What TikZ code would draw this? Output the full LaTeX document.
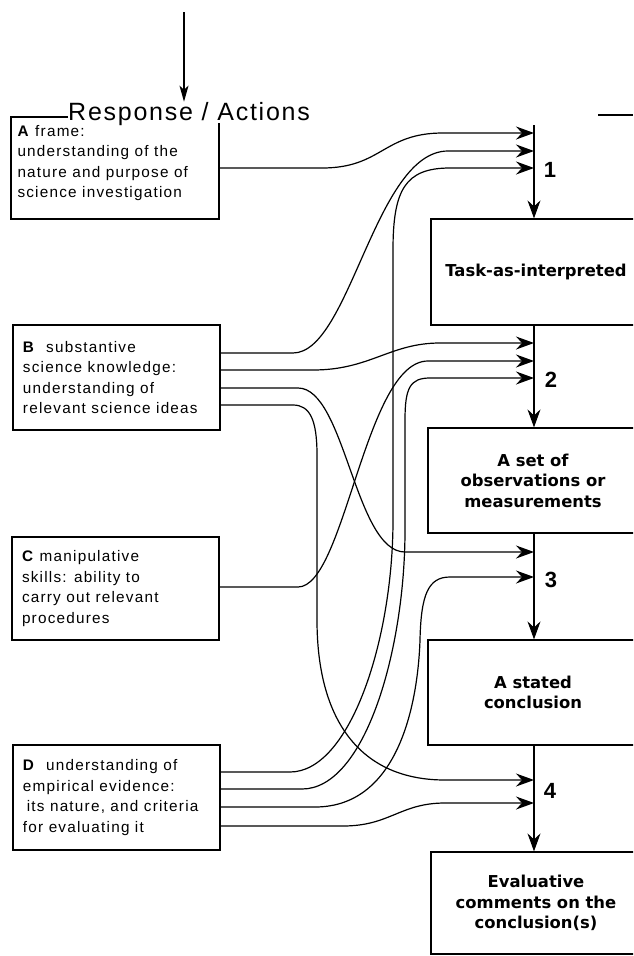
\documentclass[tikz,border=0pt]{standalone}
\usepackage{fontspec}
\usetikzlibrary{arrows.meta}
\setmainfont{Liberation Sans}
\newfontfamily\boxfont[LetterSpace=8]{Liberation Sans}
\newfontfamily\titlefont[LetterSpace=7]{Liberation Sans}
\newfontfamily\stagefont{DejaVu Sans}
\tikzstyle{inbox}=[draw=black, line width=1.2pt, text width=187pt, inner xsep=10pt,
  align=flush left, font={\boxfont\fontsize{15.3}{20.5}\selectfont}]
\tikzstyle{stage}=[draw=black, line width=1.2pt, minimum width=210pt, align=center,
  font={\stagefont\bfseries\fontsize{16.4}{20.5}\selectfont}]
\tikzstyle{title}=[anchor=base west, inner sep=0pt, font={\titlefont\fontsize{25}{25}\selectfont}]
\tikzstyle{num}=[inner sep=0pt, font={\bfseries\fontsize{22}{22}\selectfont}]
\tikzstyle{frame}=[line width=1.2pt]
\tikzstyle{feed}=[line width=1.2pt, -{Stealth[length=18pt,width=13pt,inset=6pt]}]
\tikzstyle{spine}=[line width=1.2pt, -{Stealth[length=18pt,width=13pt,inset=6pt]}]
\tikzstyle{toparrow}=[line width=1.7pt, -{Stealth[length=16pt,width=9pt,inset=4pt]}]

\begin{document}
\begin{tikzpicture}[x=1pt, y=-1pt]
    \useasboundingbox (0, 0) rectangle (633, 956);
    \clip (0, 0) rectangle (633, 956);
    % title, frame and incoming arrow
    \coordinate (src) at (184, 12);
    \node [style=title] (title) at (68, 120) {Response / Actions};
    \draw [style=frame] (68, 117) -| (11, 219) -| (219, 123);
    \draw [style=frame] (598, 115) to (633, 115);
    \draw [style=toparrow] (src) to (src |- title.north);

    % the four kinds of understanding
    \node [style=inbox, draw=none] (A) at (111, 163) {\textbf{A} frame:\\understanding of the\\nature and purpose of\\science investigation};
    \node [style=inbox, minimum height=105pt] (B) at (116.5, 377.5) {\textbf{B}\ \ substantive\\science knowledge:\\understanding of\\relevant science ideas};
    \node [style=inbox, minimum height=103pt] (C) at (115.5, 588.5) {\textbf{C} manipulative\\skills: ability to\\carry out relevant\\procedures};
    \node [style=inbox, minimum height=105pt] (D) at (116.5, 797.5) {\textbf{D}\ \ understanding of\\empirical evidence:\\\hspace*{0.25em}its nature, and criteria\\for evaluating it};

    % the stages
    \node [style=stage, minimum height=106pt] (task) at (536, 272) {Task-as-interpreted};
    \node [style=stage, minimum height=105pt] (obs) at (533, 480.5) {A set of\\observations or\\measurements};
    \node [style=stage, minimum height=105pt] (concl) at (533, 692.5) {A stated\\conclusion};
    \node [style=stage, minimum height=102pt] (evalc) at (536, 903) {Evaluative\\comments on the\\conclusion(s)};

    \node [style=num] (n1) at (550, 170) {1};
    \node [style=num] (n2) at (551, 380) {2};
    \node [style=num] (n3) at (551, 580) {3};
    \node [style=num] (n4) at (550, 791) {4};

    % main line
    \coordinate (top1) at (534, 125);
    \draw [style=spine] (top1) to (top1 |- task.north);
    \draw [style=spine] (task.south -| top1) to (top1 |- obs.north);
    \draw [style=spine] (obs.south -| top1) to (top1 |- concl.north);
    \draw [style=spine] (concl.south -| top1) to (top1 |- evalc.north);

    % outlets
    \coordinate (a1) at (219, 168);
    \coordinate (b1) at (220, 353);
    \coordinate (b2) at (220, 370);
    \coordinate (b3) at (220, 388);
    \coordinate (b4) at (220, 405);
    \coordinate (c1) at (219, 587);
    \coordinate (d1) at (220, 772);
    \coordinate (d2) at (220, 789);
    \coordinate (d3) at (220, 807);
    \coordinate (d4) at (220, 826);

    % inlets
    \coordinate (i1a) at (534, 133);
    \coordinate (i1b) at (534, 151);
    \coordinate (i1c) at (534, 168);
    \coordinate (i2a) at (534, 343);
    \coordinate (i2b) at (534, 361);
    \coordinate (i2c) at (534, 378);
    \coordinate (i3a) at (534, 552);
    \coordinate (i3b) at (534, 577);
    \coordinate (i4a) at (534, 780);
    \coordinate (i4b) at (534, 803);

    % feeds
    \draw [style=feed] (a1) -- (322, 168) .. controls (382, 168) and (383, 133) .. (443, 133) -- (i1a);
    \draw [style=feed] (b1) -- (293, 353) .. controls (350, 353) and (375, 151) .. (448, 151) -- (i1b);
    \draw [style=feed] (d1) -- (290, 772) .. controls (350, 772) and (393, 640) .. (393, 520)
        -- (393, 250) .. controls (393, 190) and (405, 168) .. (450, 168) -- (i1c);
    \draw [style=feed] (b2) -- (313, 370) .. controls (370, 370) and (390, 343) .. (440, 343) -- (i2a);
    \draw [style=feed] (c1) -- (298, 587) .. controls (345, 587) and (365, 361) .. (428, 361) -- (i2b);
    \draw [style=feed] (d2) -- (302, 789) .. controls (365, 789) and (405, 650) .. (405, 530)
        -- (405, 420) .. controls (405, 388) and (410, 378) .. (430, 378) -- (i2c);
    \draw [style=feed] (b3) -- (298, 388) .. controls (345, 388) and (355, 552) .. (405, 552) -- (i3a);
    \draw [style=feed] (d3) -- (315, 807) .. controls (400, 807) and (418, 700) .. (420, 640)
        .. controls (421, 595) and (428, 577) .. (450, 577) -- (i3b);
    \draw [style=feed] (b4) -- (293, 405) .. controls (310, 405) and (317, 420) .. (317, 455)
        -- (317, 620) .. controls (317, 720) and (360, 780) .. (445, 780) -- (i4a);
    \draw [style=feed] (d4) -- (343, 826) .. controls (390, 826) and (400, 803) .. (445, 803) -- (i4b);
\end{tikzpicture}
\end{document}
